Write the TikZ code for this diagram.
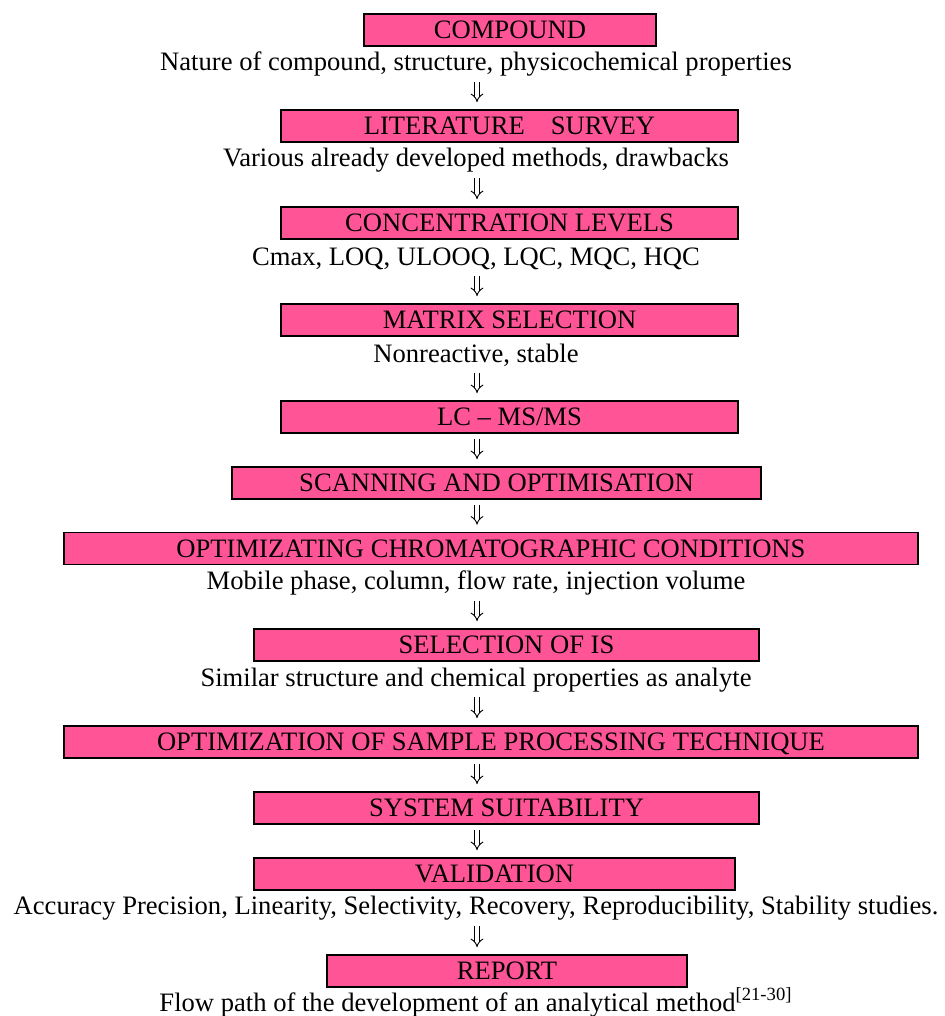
\documentclass[tikz,border=0pt]{standalone}
\usepackage{fontspec}
\setmainfont{Liberation Serif}
\usepackage{xcolor}
\usetikzlibrary{arrows.meta}

\definecolor{boxpink}{HTML}{FF5597}

\begin{document}
\begin{tikzpicture}[
    x=0.5pt, y=-0.5pt,
    font=\fontsize{13.3}{15}\selectfont,
    stage/.style={rectangle, draw=black, line width=0.8pt, fill=boxpink, inner sep=0pt, minimum height=16pt, text height=8.8pt, text depth=0pt},
    note/.style={anchor=base, inner xsep=0pt, inner ysep=3pt, text depth=0pt},
    flow/.style={double, double distance=1.8pt, line width=0.45pt, -{Implies}, shorten <=2.5pt, shorten >=3.5pt}
]
\useasboundingbox (0,0) rectangle (944,1016);

\node[stage, minimum width=146pt] (compound) at (510,30) {COMPOUND};
\node[note] (compoundnote) at (476,70.5) {Nature of compound, structure, physicochemical properties};
\node[stage, minimum width=228.5pt] (litsurvey) at (509.5,126) {LITERATURE\hspace{13pt}SURVEY};
\node[note] (litnote) at (476,167) {Various already developed methods, drawbacks};
\node[stage, minimum width=228.5pt] (conc) at (509.5,223) {CONCENTRATION LEVELS};
\node[note] (concnote) at (476,265) {Cmax, LOQ, ULOOQ, LQC, MQC, HQC};
\node[stage, minimum width=228.5pt] (matrix) at (509.5,320) {MATRIX SELECTION};
\node[note] (matrixnote) at (476,362) {Nonreactive, stable};
\node[stage, minimum width=228.5pt] (lcms) at (509.5,417) {LC -- MS/MS};
\node[stage, minimum width=264.5pt] (scan) at (496.5,483) {SCANNING AND OPTIMISATION};
\node[stage, minimum width=427pt] (chrom) at (491,548.5) {OPTIMIZATING CHROMATOGRAPHIC CONDITIONS};
\node[note] (chromnote) at (476,589.5) {Mobile phase, column, flow rate, injection volume};
\node[stage, minimum width=252.5pt] (istd) at (506.5,645) {SELECTION OF IS};
\node[note] (istdnote) at (476,686) {Similar structure and chemical properties as analyte};
\node[stage, minimum width=427pt] (sample) at (491,742) {OPTIMIZATION OF SAMPLE PROCESSING TECHNIQUE};
\node[stage, minimum width=252.5pt] (suit) at (506.5,808) {SYSTEM SUITABILITY};
\node[stage, minimum width=240.5pt] (valid) at (494.5,874) {VALIDATION};
\node[note] (validnote) at (476,914.5) {Accuracy Precision, Linearity, Selectivity, Recovery, Reproducibility, Stability studies.};
\node[stage, minimum width=180pt] (report) at (507,971) {REPORT};
\node[note] (reportnote) at (476,1011) {Flow path of the development of an analytical method\textsuperscript{[21-30]}};

% arrows all run down one axis
\coordinate (axis) at (477,0);
\foreach \a/\b in {compoundnote/litsurvey, litnote/conc, concnote/matrix, matrixnote/lcms, lcms/scan, scan/chrom, chromnote/istd, istdnote/sample, sample/suit, suit/valid, validnote/report}
  \draw[flow] (axis |- \a.south) -- (axis |- \b.north);
\end{tikzpicture}
\end{document}
